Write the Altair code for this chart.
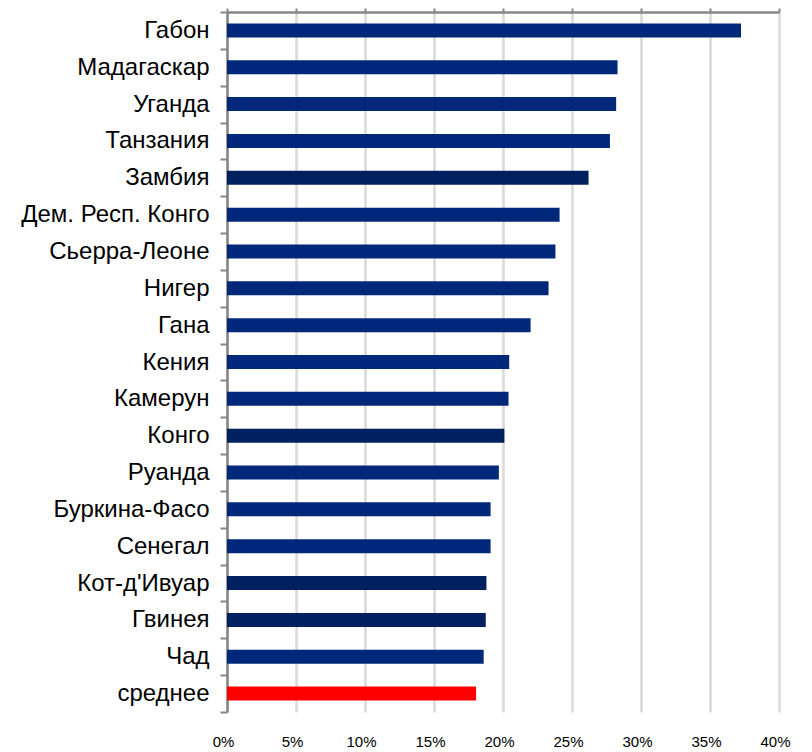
import altair as alt
import pandas as pd

countries = ["Габон", "Мадагаскар", "Уганда", "Танзания", "Замбия",
             "Дем. Респ. Конго", "Сьерра-Леоне", "Нигер", "Гана", "Кения",
             "Камерун", "Конго", "Руанда", "Буркина-Фасо", "Сенегал",
             "Кот-д'Ивуар", "Гвинея", "Чад", "среднее"]
values = [37.25, 28.3, 28.2, 27.75, 26.2,
          24.1, 23.8, 23.3, 22.0, 20.45,
          20.4, 20.1, 19.7, 19.1, 19.1,
          18.8, 18.75, 18.6, 18.05]
colors = ["#00287a", "#00287a", "#00287a", "#00287a", "#002060",
          "#00287a", "#00287a", "#00287a", "#00287a", "#00287a",
          "#00287a", "#002060", "#00287a", "#00287a", "#00287a",
          "#002060", "#002060", "#00287a", "#ff0000"]
x_ticks = [0, 0.05, 0.10, 0.15, 0.20, 0.25, 0.30, 0.35, 0.40]

df = pd.DataFrame({
    "country": countries,
    "value": [v / 100 for v in values],
    "color": colors,
})

font = "Liberation Sans"

x_scale = alt.Scale(domain=[0, 0.4], nice=False)
y_scale = alt.Scale(paddingInner=0, paddingOuter=0)

bars = alt.Chart(df).mark_bar(size=14).encode(
    x=alt.X("value:Q", scale=x_scale, title=None,
            axis=alt.Axis(orient="bottom", values=x_ticks, format=".0%",
                          domain=False, ticks=False, labelPadding=22,
                          labelFlush=False, labelOffset=-4,
                          labelFontSize=15, labelColor="black", labelFont=font,
                          grid=True, gridColor="#d9d9d9", gridWidth=2.5)),
    y=alt.Y("country:N", sort=countries, scale=y_scale, title=None,
            axis=alt.Axis(tickBand="extent", tickSize=7, tickColor="#868686",
                          tickWidth=2, domainColor="#868686", domainWidth=2.5,
                          labelFontSize=24, labelColor="black", labelFont=font,
                          labelPadding=11, labelLimit=400, grid=False)),
    color=alt.Color("color:N", scale=None),
)

top = alt.Chart(df).mark_bar(opacity=0).encode(
    x=alt.X("value:Q", scale=x_scale, title=None,
            axis=alt.Axis(orient="top", values=x_ticks, labels=False,
                          ticks=True, tickSize=4, tickColor="#868686",
                          tickWidth=2, domain=True, domainColor="#868686",
                          domainWidth=2.5, grid=False)),
    y=alt.Y("country:N", sort=countries, scale=y_scale),
)

chart = alt.layer(bars, top).resolve_axis(x="independent").properties(
    width=552, height=700,
    autosize=alt.AutoSizeParams(type="none"),
    padding={"left": 219, "top": 4, "right": 25, "bottom": 40},
).configure_view(stroke=None)

chart.save("out.html", embed_options={"renderer": "svg", "actions": False})
